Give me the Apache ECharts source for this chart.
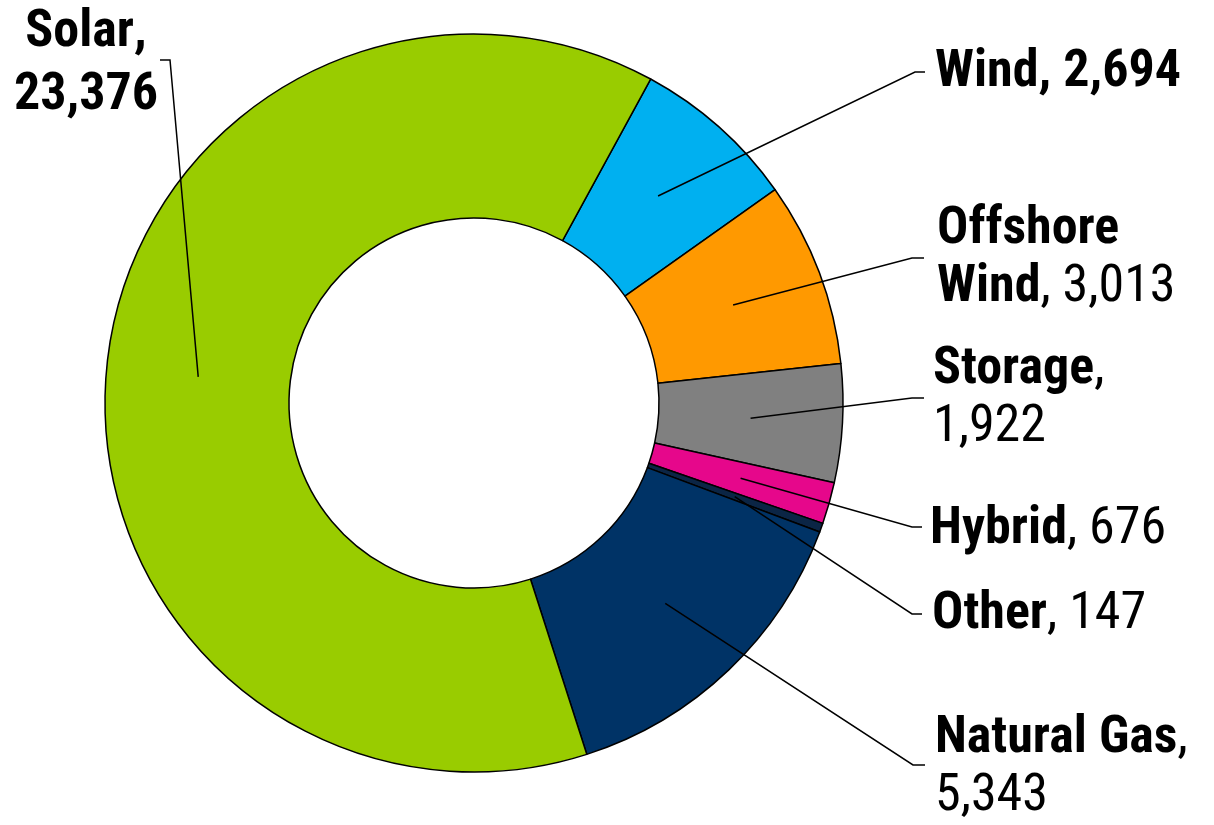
<!DOCTYPE html>
<html>
<head>
<meta charset="utf-8">
<script src="https://cdn.jsdelivr.net/npm/echarts@6/dist/echarts.min.js"></script>
<style>
  html, body { margin: 0; padding: 0; background: #fff; }
  #chart { width: 1214px; height: 825px; }
</style>
</head>
<body>
<div id="chart"></div>
<script>
// data, clockwise from the top right
var names = ['Wind', 'Offshore Wind', 'Storage', 'Hybrid', 'Other', 'Natural Gas', 'Solar'];
var values = [2694, 3013, 1922, 676, 147, 5343, 23376];
var colors = ['#00b0f0', '#ff9900', '#808080', '#e6078b', '#0b2545', '#003366', '#99cc00'];

// how each label is broken into lines
var nameLines = [['Wind'], ['Offshore', 'Wind'], ['Storage'], ['Hybrid'], ['Other'], ['Natural Gas'], ['Solar']];
var valueOnNewLine = [false, false, true, false, false, true, true];
var allBold = [true, false, false, false, false, false, true];

// label placement: [x, y (middle), elbowX, elbowY, endX]
var labelPos = [
  [935, 73, 915, 72, 925],
  [937, 259, 912, 258, 924],
  [933, 399, 912, 398, 924],
  [930, 530, 912, 527, 922],
  [932, 615, 912, 614, 922],
  [935, 768, 913, 765, 925],
  [86, 64, 170, 60, 160]
];

var cx = 474, cy = 403, rIn = 185, rOut = 369;
var startAngle = 61.4;
var total = values.reduce(function (a, b) { return a + b; }, 0);

function anchorPoint(i) {
  var before = 0;
  for (var k = 0; k < i; k++) before += values[k];
  var a = (startAngle - (before + values[i] / 2) / total * 360) * Math.PI / 180;
  var r = (rIn + rOut) / 2;
  return [cx + r * Math.cos(a), cy - r * Math.sin(a)];
}

function fmt(v) {
  return v.toLocaleString('en-US');
}

var FONT = "'Roboto Condensed', 'DejaVu Sans Condensed', sans-serif";

// leader lines drawn on top of the ring
var leaders = names.map(function (n, i) {
  var p = labelPos[i];
  return {
    type: 'polyline',
    z: 100,
    silent: true,
    shape: { points: [anchorPoint(i), [p[2], p[3]], [p[4], p[3]]] },
    style: { stroke: '#000', lineWidth: 1.5, fill: null }
  };
});

var chart = echarts.init(document.getElementById('chart'));
chart.setOption({
  animation: false,
  graphic: leaders,
  series: [
    {
      type: 'pie',
      center: [cx, cy],
      radius: [rIn, rOut],
      startAngle: startAngle,
      clockwise: true,
      avoidLabelOverlap: false,
      silent: true,
      data: names.map(function (n, i) {
        return { name: n, value: values[i], itemStyle: { color: colors[i] } };
      }),
      itemStyle: { borderColor: '#000', borderWidth: 1.5 },
      label: {
        show: true,
        position: 'outside',
        fontFamily: FONT,
        fontSize: 52,
        lineHeight: 58,
        color: '#000',
        formatter: function (p) {
          var i = p.dataIndex;
          // the big solar label sits a bit looser
          var bs = i === 6 ? 's' : 'b';
          var txt = nameLines[i].map(function (s) { return '{' + bs + '|' + s + '}'; }).join('\n');
          var st = allBold[i] ? bs : 'n';
          txt += '{' + st + '|,}';
          txt += valueOnNewLine[i] ? '\n{' + st + '|' + fmt(values[i]) + '}'
                                   : '{' + st + '| ' + fmt(values[i]) + '}';
          return txt;
        },
        rich: {
          b: { fontFamily: FONT, fontWeight: 'bold', fontSize: 52, lineHeight: 58, color: '#000' },
          s: { fontFamily: FONT, fontWeight: 'bold', fontSize: 52, lineHeight: 63, color: '#000' },
          n: { fontFamily: FONT, fontWeight: 'normal', fontSize: 52, lineHeight: 58, color: '#000' }
        }
      },
      labelLine: { show: false },
      labelLayout: function (params) {
        var i = params.dataIndex;
        var p = labelPos[i];
        return {
          x: p[0],
          y: p[1],
          align: i === 6 ? 'center' : 'left',
          verticalAlign: 'middle'
        };
      }
    }
  ]
});
</script>
</body>
</html>
